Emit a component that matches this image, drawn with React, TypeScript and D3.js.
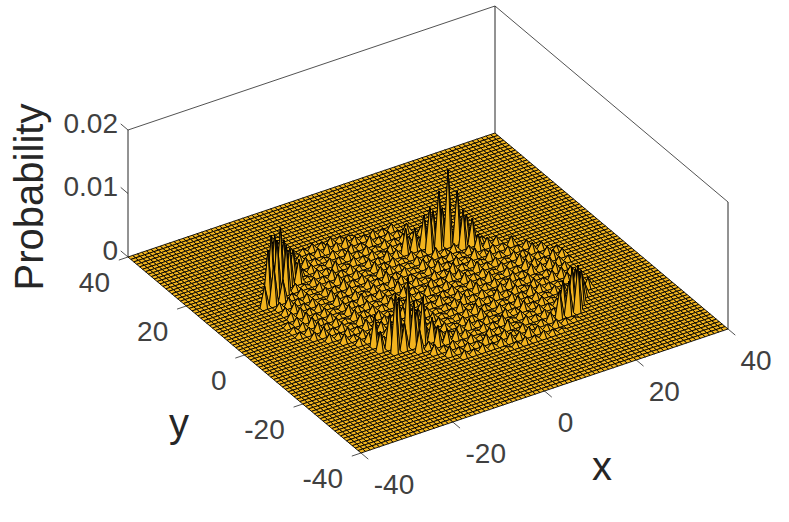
import React, { useMemo } from "react";
import * as d3 from "d3";

// Lattice extent and ticks
const gridMin = -40;
const gridMax = 40;
const xTicks = [-40, -20, 0, 20, 40];
const yTicks = [-40, -20, 0, 20, 40];
const zTicks = [0, 0.01, 0.02];
const zTickLabels = ["0", "0.01", "0.02"];
const heightUnit = 0.00033;

// Ring interior, read row by row: [y, first x, heights on every second site in heightUnit]
const rowsUpper: [number, number, string][] = [
  [24, -14, "1232321"],
  [22, -18, "1232343432323"],
  [20, -20, "323421323242324"],
  [18, -22, "32323132423132324"],
  [16, -24, "3423132413231324232"],
  [14, -26, "342313242313243132423"],
  [12, -26, "3423132423142313243243"],
  [10, -26, "34231324231432132423432"],
  [8, -26, "342314231324231432313243"],
  [6, -26, "3423142313243213423142324"],
  [4, -28, "234231324231423132423142323"],
  [2, -28, "2342314231324213243142313243"],
  [0, -28, "23423142324132423142313243232"],
];
const rowsLower: [number, number, string][] = [
  [-2, -26, "3423142313423123132413243243"],
  [-4, -24, "323241324132413242313243432"],
  [-6, -22, "4232413243123423134231243"],
  [-8, -20, "342313423124132423132443"],
  [-10, -18, "23432423123423132432143"],
  [-12, -16, "3423423132413242313243"],
  [-14, -14, "324231342313242313243"],
  [-16, -12, "2324231324131323243"],
  [-18, -10, "42323132413232323"],
  [-20, -8, "423242313124323"],
  [-22, -6, "3232343432321"],
  [-24, 2, "1232321"],
];

// Tall spikes of the four clusters: [x, y, probability]
const frontCluster: [number, number, number][] = [
  [-12, -12, 0.0100], [-16, -14, 0.0090], [-14, -12, 0.0074], [-10, -14, 0.0072],
  [-12, -14, 0.0070], [-10, -12, 0.0044], [-8, -14, 0.0035], [-16, -12, 0.0053],
  [-18, -10, 0.0047], [-4, -16, 0.0016], [-6, -16, 0.0020], [-14, -14, 0.0040],
  [-12, -16, 0.0033], [-8, -16, 0.0030], [-18, -12, 0.0030],
];
const backCluster: [number, number, number][] = [
  [12, 12, 0.0118], [10, 12, 0.0090], [14, 12, 0.0080], [8, 12, 0.0069],
  [8, 14, 0.0049], [16, 10, 0.0040], [14, 10, 0.0058], [4, 14, 0.0038],
  [6, 14, 0.0033], [16, 8, 0.0023], [18, 8, 0.0013], [12, 14, 0.0050],
  [10, 14, 0.0050], [16, 12, 0.0038],
];
const leftCluster: [number, number, number][] = [
  [-22, 16, 0.0095], [-24, 16, 0.0088], [-20, 16, 0.0058], [-22, 18, 0.0075],
  [-24, 14, 0.0088], [-22, 14, 0.0075], [-24, 12, 0.0033], [-26, 14, 0.0077],
  [-26, 12, 0.0060], [-18, 16, 0.0035], [-20, 18, 0.0063], [-18, 18, 0.0042],
  [-28, 12, 0.0033],
];
const rightCluster: [number, number, number][] = [
  [20, -20, 0.0072], [22, -18, 0.0052], [18, -20, 0.0052], [20, -18, 0.0061],
  [16, -20, 0.0043], [22, -16, 0.0047], [24, -16, 0.0019], [18, -18, 0.0045],
  [24, -14, 0.0030], [26, -14, 0.0015],
];

const ox = 361;
const oy = 453;
const xToSx = d3.scaleLinear().domain([gridMin, gridMax]).range([0, 367]);
const xToSy = d3.scaleLinear().domain([gridMin, gridMax]).range([0, -124]);
const yToSx = d3.scaleLinear().domain([gridMin, gridMax]).range([0, -233]);
const yToSy = d3.scaleLinear().domain([gridMin, gridMax]).range([0, -196]);
const zToSy = d3.scaleLinear().domain([0, 0.02]).range([0, -127]);

const px = (x: number, y: number) => ox + xToSx(x) + yToSx(y);
const py = (x: number, y: number, z = 0) => oy + xToSy(x) + yToSy(y) + zToSy(z);

const FONT = "'Liberation Sans', Arial, sans-serif";
const TICK = "#404040";
const AXIS = "#262626";

function buildHeights() {
  const h = new Map<string, number>();
  for (const [y, x0, s] of [...rowsUpper, ...rowsLower]) {
    s.split("").forEach((c, i) => h.set(`${x0 + 2 * i},${y}`, +c * heightUnit));
  }
  for (const [x, y, p] of [...frontCluster, ...backCluster, ...leftCluster, ...rightCluster]) {
    h.set(`${x},${y}`, p);
  }
  return h;
}

export default function App() {
  const quads = useMemo(() => {
    const h = buildHeights();
    const z = (x: number, y: number) => h.get(`${x},${y}`) ?? 0;
    const out: string[] = [];
    for (let y = gridMax; y > gridMin; y--) {
      for (let x = gridMax; x > gridMin; x--) {
        const p = d3.path();
        p.moveTo(px(x, y), py(x, y, z(x, y)));
        p.lineTo(px(x - 1, y), py(x - 1, y, z(x - 1, y)));
        p.lineTo(px(x - 1, y - 1), py(x - 1, y - 1, z(x - 1, y - 1)));
        p.lineTo(px(x, y - 1), py(x, y - 1, z(x, y - 1)));
        p.closePath();
        out.push(p.toString());
      }
    }
    return out;
  }, []);

  const line = (x1: number, y1: number, x2: number, y2: number, k: string, w = 0.8) => (
    <line key={k} x1={x1} y1={y1} x2={x2} y2={y2} stroke={AXIS} strokeWidth={w} />
  );
  const top = 0.02;
  const a = gridMin;
  const b = gridMax;

  return (
    <svg width={789} height={522} style={{ position: "absolute", left: 0, top: 0, background: "#fff" }} fontFamily={FONT}>
      {line(px(a, b), py(a, b), px(a, b), py(a, b, top), "l", 1)}
      {line(px(b, a), py(b, a), px(b, a), py(b, a, top), "r", 1)}
      {line(px(b, b), py(b, b), px(b, b), py(b, b, top), "bk", 1)}
      {line(px(a, b), py(a, b, top), px(b, b), py(b, b, top), "t1")}
      {line(px(b, b), py(b, b, top), px(b, a), py(b, a, top), "t2")}
      <g fill="#F2B41E" stroke="#000" strokeWidth={0.9} strokeLinejoin="round">
        {quads.map((d, i) => (
          <path key={i} d={d} />
        ))}
      </g>
      {/* ticks */}
      {xTicks.map((t) => line(px(t, a), py(t, a), px(t, a - 2.5), py(t, a - 2.5), `xt${t}`))}
      {yTicks.map((t) => line(px(a, t), py(a, t), px(a - 2, t), py(a - 2, t), `yt${t}`))}
      {zTicks.map((t) => line(px(a, b), py(a, b, t), px(a, b + 2.5), py(a, b + 2.5, t), `zt${t}`))}
      <g fontSize={28} fill={TICK}>
        {xTicks.map((t) => (
          <text key={t} x={px(t, a) + (t === 0 ? 21 : t < 0 ? 33 : 28)} y={py(t, a) + 31} textAnchor="middle" dominantBaseline="central">
            {t < 0 ? `-${-t}` : t}
          </text>
        ))}
        {yTicks.map((t) => (
          <text key={t} x={px(a, t) - 18} y={py(a, t) + 25} textAnchor="end" dominantBaseline="central">
            {t < 0 ? `-${-t}` : t}
          </text>
        ))}
        {zTicks.map((t, i) => (
          <text key={t} x={118} y={py(a, b, t) - 7} textAnchor="end" dominantBaseline="central">
            {zTickLabels[i]}
          </text>
        ))}
      </g>
      <g fontSize={40} fill={AXIS} textAnchor="middle">
        <text x={602} y={480}>x</text>
        <text x={179} y={437}>y</text>
        <text transform="translate(43,197) rotate(-90)">Probability</text>
      </g>
    </svg>
  );
}
